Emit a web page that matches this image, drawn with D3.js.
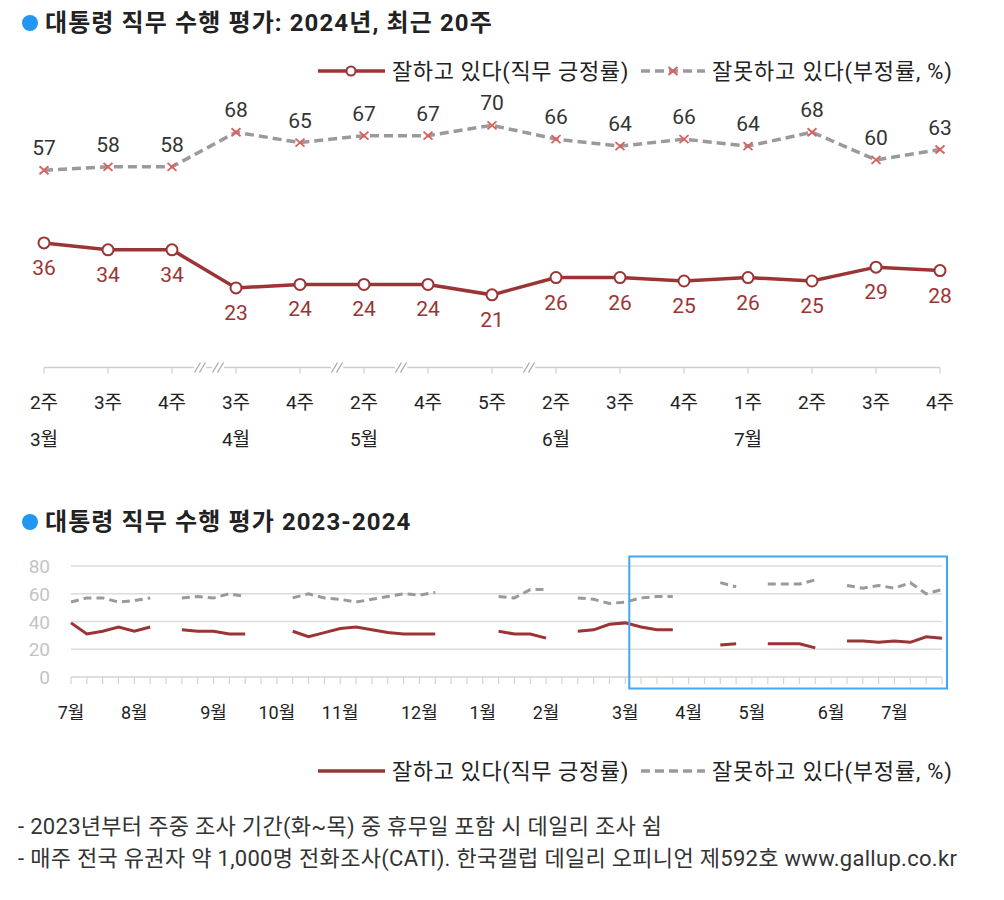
<!DOCTYPE html>
<html><head><meta charset="utf-8">
<script src="https://cdn.jsdelivr.net/npm/d3@7"></script>
<style>
body{margin:0;background:#fff}
text{font-family:Roboto,'Noto Sans CJK KR',sans-serif}
</style>
</head><body>
<svg id="c" width="1004" height="900"></svg>
<script>
// ---------- Top chart data (2024, last 20 weeks) ----------
const topWeeks    = ["2주","3주","4주","3주","4주","2주","4주","5주","2주","3주","4주","1주","2주","3주","4주"];
const topMonths   = ["3월","","","4월","","5월","","","6월","","","7월","","",""];
const topPositive = [36,34,34,23,24,24,24,21,26,26,25,26,25,29,28];
const topNegative = [57,58,58,68,65,67,67,70,66,64,66,64,68,60,63];
// breaks: [index after which break occurs, number of break marks]
const topBreaks   = [[2,2],[4,1],[5,1],[7,1]];

// ---------- Bottom chart data (2023-07 .. 2024-07, weekly) ----------
const bottomMonths   = ["7월","8월","9월","10월","11월","12월","1월","2월","3월","4월","5월","6월","7월"];
const weeksPerMonth  = [4,5,4,4,5,4,4,5,4,4,5,4,4];
const bottomPositive = [39,31,33,36,33,36,null,34,33,33,31,31,null,null,
  33,29,32,35,36,34,32,31,31,31,null,null,null,33,31,31,28,null,
  33,34,38,39,36,34,34,null,null,23,24,null,24,24,24,21,null,26,26,25,26,25,29,28];
const bottomNegative = [54,57,57,54,55,57,null,57,58,57,60,58,null,null,
  57,60,57,56,54,56,58,60,59,61,null,null,null,58,57,63,63,null,
  57,56,53,54,57,58,58,null,null,68,65,null,67,67,67,70,null,66,64,66,64,68,60,63];
const bottomYTicks = [0,20,40,60,80];

const seriesNames = ["잘하고 있다(직무 긍정률)","잘못하고 있다(부정률, %)"];
const titles = ["대통령 직무 수행 평가: 2024년, 최근 20주","대통령 직무 수행 평가 2023-2024"];
const notes = ["- 2023년부터 주중 조사 기간(화~목) 중 휴무일 포함 시 데일리 조사 쉼",
               "- 매주 전국 유권자 약 1,000명 전화조사(CATI). 한국갤럽 데일리 오피니언 제592호 www.gallup.co.kr"];

const RED="#9b3434", GRAY="#9a9a9a", XMARK="#d9605c", AX="#cfcfcf";
const svg = d3.select("#c");
svg.append("rect").attr("width",1004).attr("height",900).attr("fill","#fff");

function title(y, t){
  svg.append("circle").attr("cx",30).attr("cy",y-8).attr("r",8).attr("fill","#2196f3");
  svg.append("text").attr("x",45).attr("y",y).attr("font-size",24).attr("letter-spacing",1.1).attr("font-weight","bold")
     .attr("fill","#222").text(t);
}
function xmark(g,x,y){
  g.append("path").attr("d",`M${x-4.5},${y-4}L${x+4.5},${y+4}M${x-4.5},${y+4}L${x+4.5},${y-4}`)
   .attr("stroke",XMARK).attr("stroke-width",1.8).attr("fill","none");
}
function legend(y, markers){
  const g = svg.append("g");
  g.append("line").attr("x1",318).attr("x2",385).attr("y1",y).attr("y2",y).attr("stroke",RED).attr("stroke-width",3.5);
  if(markers) g.append("circle").attr("cx",351).attr("cy",y).attr("r",4.5).attr("fill","#fff").attr("stroke",RED).attr("stroke-width",2);
  g.append("text").attr("x",392).attr("y",y+8).attr("font-size",22).attr("letter-spacing",0.6).attr("fill","#222").text(seriesNames[0]);
  g.append("line").attr("x1",641).attr("x2",705).attr("y1",y).attr("y2",y).attr("stroke",GRAY).attr("stroke-width",3.5).attr("stroke-dasharray","9,5");
  if(markers) xmark(g,673,y);
  g.append("text").attr("x",712).attr("y",y+8).attr("font-size",22).attr("letter-spacing",0.8).attr("fill","#222").text(seriesNames[1]);
}

// ---------- Top chart ----------
title(31, titles[0]);
legend(71, true);
const xT = d3.scalePoint().domain(d3.range(topWeeks.length)).range([44,940]);
const yT = d3.scaleLinear().domain([0,100]).range([367.5,21.5]);
const gT = svg.append("g");
// axis
gT.append("line").attr("x1",xT(0)).attr("x2",xT(topWeeks.length-1)).attr("y1",yT(0)).attr("y2",yT(0)).attr("stroke",AX).attr("stroke-width",1.5);
gT.selectAll(".tk").data(d3.range(topWeeks.length)).join("line")
  .attr("x1",d=>xT(d)).attr("x2",d=>xT(d)).attr("y1",yT(0)).attr("y2",yT(0)+6).attr("stroke",AX).attr("stroke-width",1.2);
topBreaks.forEach(([i,n])=>{
  const mid=(xT(i)+xT(i+1))/2+5, y=yT(0);
  for(let k=0;k<n;k++){
    const x=mid+(k-(n-1)/2)*18;
    gT.append("rect").attr("x",x-6).attr("y",y-2).attr("width",12).attr("height",4).attr("fill","#fff");
    [-2.5,2.5].forEach(o=>gT.append("line").attr("x1",x+o-3).attr("y1",y+5).attr("x2",x+o+3).attr("y2",y-5)
      .attr("stroke","#aaa").attr("stroke-width",1.3));
  }
});
gT.selectAll(".wk").data(topWeeks).join("text").attr("x",(d,i)=>xT(i)).attr("y",409)
  .attr("text-anchor","middle").attr("font-size",19).attr("fill","#222").text(d=>d);
gT.selectAll(".mo").data(topMonths).join("text").attr("x",(d,i)=>xT(i)).attr("y",446)
  .attr("text-anchor","middle").attr("font-size",19).attr("fill","#222").text(d=>d);
// lines
const lineT = d3.line().x((d,i)=>xT(i)).y(d=>yT(d));
gT.append("path").attr("d",lineT(topNegative)).attr("fill","none").attr("stroke",GRAY).attr("stroke-width",3.5).attr("stroke-dasharray","9,5");
gT.append("path").attr("d",lineT(topPositive)).attr("fill","none").attr("stroke",RED).attr("stroke-width",3.5);
topNegative.forEach((v,i)=>xmark(gT,xT(i),yT(v)));
gT.selectAll(".pc").data(topPositive).join("circle").attr("cx",(d,i)=>xT(i)).attr("cy",d=>yT(d)).attr("r",5.5)
  .attr("fill","#fff").attr("stroke",RED).attr("stroke-width",2);
gT.selectAll(".nl").data(topNegative).join("text").attr("x",(d,i)=>xT(i)).attr("y",d=>yT(d)-15)
  .attr("text-anchor","middle").attr("font-size",21).attr("fill","#333").text(d=>d);
gT.selectAll(".pl").data(topPositive).join("text").attr("x",(d,i)=>xT(i)).attr("y",d=>yT(d)+32)
  .attr("text-anchor","middle").attr("font-size",21).attr("fill",RED).text(d=>d);

// ---------- Bottom chart ----------
title(530, titles[1]);
const nB = bottomPositive.length;
const xB = d3.scaleLinear().domain([0,nB-1]).range([71,942]);
const yB = d3.scaleLinear().domain([0,80]).range([677,566]);
const gB = svg.append("g");
gB.selectAll(".gr").data(bottomYTicks.filter(d=>d>0)).join("line")
  .attr("x1",xB(0)).attr("x2",xB(nB-1)).attr("y1",d=>yB(d)).attr("y2",d=>yB(d)).attr("stroke","#dcdcdc").attr("stroke-width",1.5);
gB.selectAll(".yl").data(bottomYTicks).join("text").attr("x",50).attr("y",d=>yB(d)+7)
  .attr("text-anchor","end").attr("font-size",19).attr("fill","#c4c4c4").text(d=>d);
gB.append("line").attr("x1",xB(0)).attr("x2",xB(nB-1)).attr("y1",yB(0)).attr("y2",yB(0)).attr("stroke","#d4d4d4").attr("stroke-width",1.5);
gB.selectAll(".bt").data(d3.range(nB)).join("line").attr("x1",d=>xB(d)).attr("x2",d=>xB(d))
  .attr("y1",yB(0)).attr("y2",yB(0)+7).attr("stroke","#d4d4d4").attr("stroke-width",1.2);
const monthStart = d3.cumsum([0].concat(weeksPerMonth)).slice(0,bottomMonths.length);
gB.selectAll(".bm").data(bottomMonths).join("text").attr("x",(d,i)=>xB(monthStart[i])).attr("y",719)
  .attr("text-anchor","middle").attr("font-size",18).attr("fill","#222").text(d=>d);
const lineB = d3.line().defined(d=>d!=null).x((d,i)=>xB(i)).y(d=>yB(d));
gB.append("path").attr("d",lineB(bottomNegative)).attr("fill","none").attr("stroke",GRAY).attr("stroke-width",3).attr("stroke-dasharray","8,5");
gB.append("path").attr("d",lineB(bottomPositive)).attr("fill","none").attr("stroke",RED).attr("stroke-width",3);
// highlight box for recent 20 weeks
gB.append("rect").attr("x",xB(35)+4).attr("y",556.5).attr("width",xB(nB-1)+5-xB(35)-4).attr("height",132)
  .attr("fill","none").attr("stroke","#42a5f5").attr("stroke-width",2);

legend(771, false);

// ---------- Notes ----------
svg.selectAll(".nt").data(notes).join("text").attr("x",18).attr("y",(d,i)=>834+i*32)
  .attr("font-size",22).attr("letter-spacing",0.3).attr("fill","#333").text(d=>d);
</script>
</body></html>
